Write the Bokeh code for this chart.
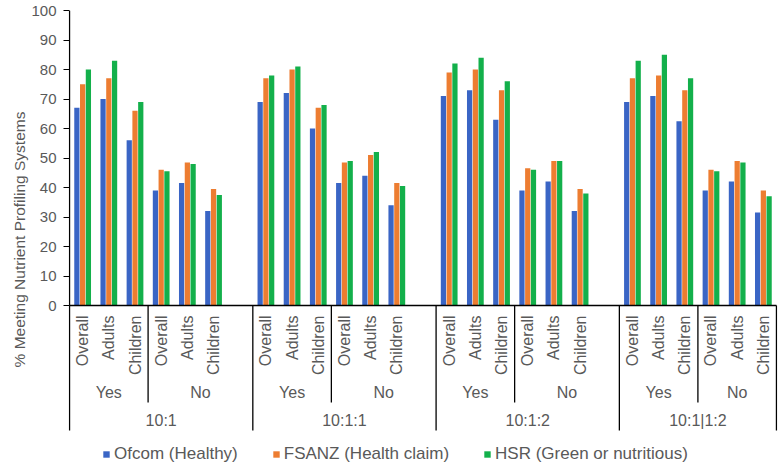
import numpy as np
from bokeh.plotting import figure
from bokeh.models import FixedTicker, Legend, LegendItem, Range1d, Title
from bokeh.embed import file_html
from bokeh.resources import INLINE
from bokeh.core.properties import value

# ---------------- data ----------------
groups = ["10:1", "10:1:1", "10:1:2", "10:1|1:2"]
answers = ["Yes", "No"]
populations = ["Overall", "Adults", "Children"]
series_names = ["Ofcom (Healthy)", "FSANZ (Health claim)", "HSR (Green or nutritious)"]
ofcom = [67, 70, 56, 39, 41.5, 32,
         69, 72, 60, 41.5, 44, 34,
         71, 73, 63, 39, 42, 32,
         69, 71, 62.5, 39, 42, 31.5]
fsanz = [75, 77, 66, 46, 48.5, 39.5,
         77, 80, 67, 48.5, 51, 41.5,
         79, 80, 73, 46.5, 49, 39.5,
         77, 78, 73, 46, 49, 39]
hsr = [80, 83, 69, 45.5, 48, 37.5,
       78, 81, 68, 49, 52, 40.5,
       82, 84, 76, 46, 49, 38,
       83, 85, 77, 45.5, 48.5, 37]
yticks = list(range(0, 101, 10))
y_title = "% Meeting Nutrient Profiling Systems"
colors = ["#3a65c5", "#ed7d31", "#13b04b"]
series = [ofcom, fsanz, hsr]

FONT = "Liberation Sans"
GREY = "#595959"

# ---------------- geometry ----------------
W, H = 781, 468
B_LEFT, B_TOP, B_RIGHT, B_BOTTOM = 68, 10, 4, 0
PXU = 2.95
frame_h = H - B_TOP - B_BOTTOM
YMAX = 100
YMIN = YMAX - frame_h / PXU
ZERO_PX = B_TOP + YMAX * PXU          # screen y of value 0
TITLE_CENTER_PX = ZERO_PX - 133       # centre of the y-axis title


def below(px):
    """data-y for a point px pixels below the zero line"""
    return -px / PXU


GROUP_SLOTS = 7
n_slots = GROUP_SLOTS * (len(groups) - 1) + len(answers) * len(populations)

xs = []
for g in range(len(groups)):
    for a in range(len(answers)):
        for k in range(len(populations)):
            xs.append(g * GROUP_SLOTS + a * len(populations) + k + 0.5)
xs = np.array(xs)

p = figure(width=W, height=H, output_backend="svg", toolbar_location=None,
           x_range=Range1d(-0.04, n_slots + 0.04), y_range=Range1d(YMIN, YMAX),
           x_axis_location=None, min_border_left=B_LEFT, min_border_top=B_TOP,
           min_border_right=B_RIGHT, min_border_bottom=B_BOTTOM)
p.outline_line_color = None
p.grid.visible = False
p.background_fill_color = "white"

# y axis
ax = p.yaxis[0]
ax.ticker = FixedTicker(ticks=yticks)
ax.axis_line_color = None
ax.major_tick_line_color = "black"
ax.major_tick_out = 5
ax.major_tick_in = 1
ax.minor_tick_line_color = None
ax.major_label_text_font = FONT
ax.major_label_text_font_size = "15px"
ax.major_label_text_color = GREY
ax.major_label_standoff = 7

# y-axis title, shifted up so it is centred like the original
frame_center_px = B_TOP + frame_h / 2
p.add_layout(Title(text=y_title, align="center", offset=frame_center_px - TITLE_CENTER_PX,
                   standoff=2, text_font=FONT, text_font_size="15.5px",
                   text_font_style="normal", text_color=GREY), "left")

# bars
offsets = [-0.22, 0.0, 0.22]
renderers = []
for vals, col, off in zip(series, colors, offsets):
    r = p.vbar(x=xs + off, top=vals, bottom=0, width=0.2, fill_color=col,
               line_color=None)
    renderers.append(r)

# x axis line at zero and left line
p.segment(x0=[0], y0=[0], x1=[n_slots], y1=[0], line_color="black", line_width=1.3)
p.segment(x0=[0], y0=[YMAX], x1=[0], y1=[0], line_color="black", line_width=1.3)

# separators
grp_edges = [g * GROUP_SLOTS for g in range(len(groups))] + [n_slots]
p.segment(x0=grp_edges, y0=[0] * len(grp_edges), x1=grp_edges,
          y1=[below(125)] * len(grp_edges), line_color="black", line_width=1.3)
mid_edges = [g * GROUP_SLOTS + len(populations) for g in range(len(groups))]
p.segment(x0=mid_edges, y0=[0] * len(mid_edges), x1=mid_edges,
          y1=[below(97)] * len(mid_edges), line_color="black", line_width=1.3)

# category labels
pop_labels = populations * (len(groups) * len(answers))
p.text(x=xs, y=[below(10)] * len(xs), text=pop_labels, angle=np.pi / 2,
       text_align="right", text_baseline="middle", text_font=value(FONT),
       text_font_size="16px", text_color=GREY)

# answer labels
ans_x, ans_t = [], []
for g in range(len(groups)):
    start = g * GROUP_SLOTS
    end = grp_edges[g + 1]
    ans_x.append(start + len(populations) / 2)
    ans_t.append(answers[0])
    ans_x.append((start + len(populations) + end) / 2)
    ans_t.append(answers[1])
p.text(x=ans_x, y=[below(87)] * len(ans_x), text=ans_t, text_align="center",
       text_baseline="middle", text_font=value(FONT), text_font_size="16px",
       text_color=GREY)

# group labels
grp_x = [(grp_edges[g] + grp_edges[g + 1]) / 2 for g in range(len(groups))]
p.text(x=grp_x, y=[below(115)] * len(grp_x), text=groups, text_align="center",
       text_baseline="middle", text_font=value(FONT), text_font_size="16px",
       text_color=GREY)

legend = Legend(items=[LegendItem(label=n, renderers=[r]) for n, r in zip(series_names, renderers)],
                orientation="horizontal", location=(34, 4), padding=0, margin=0,
                spacing=34, glyph_width=8, glyph_height=8, label_standoff=4,
                label_height=17, label_text_font=FONT, label_text_font_size="17px",
                label_text_color=GREY, border_line_color=None,
                background_fill_alpha=0)
p.add_layout(legend)

open("out.html", "w").write(file_html(p, INLINE))
